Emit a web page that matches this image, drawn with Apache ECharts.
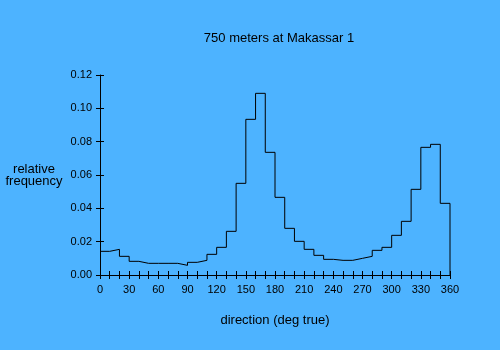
<!DOCTYPE html>
<html><head><meta charset="utf-8">
<script src="https://cdn.jsdelivr.net/npm/echarts@6/dist/echarts.min.js"></script>
<style>html,body{margin:0;padding:0;background:#4DB3FF}#c{width:500px;height:350px}</style>
</head><body><div id="c"></div>
<script>
const titleText = '750 meters at Makassar 1';
const xName = 'direction (deg true)';
const yName = 'relative\nfrequency';
const binWidth = 10;
const binStarts = [0,10,20,30,40,50,60,70,80,90,100,110,120,130,140,150,160,170,180,190,200,210,220,230,240,250,260,270,280,290,300,310,320,330,340,350];
const freq = [0.0142,0.0154,0.0112,0.0082,0.0070,0.0070,0.0070,0.0070,0.0058,0.0076,0.0088,0.0124,0.0166,0.0262,0.0550,0.0934,0.1090,0.0736,0.0466,0.0280,0.0202,0.0154,0.0118,0.0094,0.0088,0.0088,0.0100,0.0112,0.0148,0.0166,0.0238,0.0322,0.0514,0.0766,0.0784,0.0430];
const xLabelStep = 30;

const stepData = [];
binStarts.forEach((s, i) => {
  stepData.push([s, freq[i]]);
  stepData.push([s + binWidth, freq[i]]);
});
stepData.push([binStarts[binStarts.length - 1] + binWidth, 0]);

const font = '"Liberation Sans", Arial, sans-serif';
const black = '#000';
const chart = echarts.init(document.getElementById('c'), null, {renderer: 'canvas'});
const xCommon = {type: 'value', min: 0, max: 360, interval: 10, position: 'bottom', splitLine: {show: false}};
const yCommon = {type: 'value', min: 0, max: 0.12, interval: 0.02, position: 'left', splitLine: {show: false}};
chart.setOption({
  animation: false,
  backgroundColor: '#4DB3FF',
  title: {text: titleText, left: 274, top: 27, textAlign: 'center',
    textStyle: {fontFamily: font, fontSize: 13, fontWeight: 'normal', color: black}},
  grid: {left: 100, right: 50, top: 75, bottom: 75, containLabel: false},
  xAxis: [
    Object.assign({}, xCommon, {
      name: xName, nameLocation: 'middle', nameGap: 39,
      nameTextStyle: {fontFamily: font, fontSize: 13, color: black},
      axisLine: {lineStyle: {color: black, width: 1}},
      axisTick: {inside: false, length: 4, lineStyle: {color: black}},
      axisLabel: {fontFamily: font, fontSize: 11, color: black, margin: 9,
        formatter: v => (v % xLabelStep === 0 ? String(v) : '')}
    }),
    Object.assign({}, xCommon, {
      axisLine: {show: false},
      axisTick: {inside: true, length: 4, lineStyle: {color: black}},
      axisLabel: {show: false}
    })
  ],
  yAxis: [
    Object.assign({}, yCommon, {
      name: yName, nameLocation: 'middle', nameGap: 66, nameRotate: 0,
      nameTextStyle: {fontFamily: font, fontSize: 13, color: black, align: 'center', verticalAlign: 'middle', lineHeight: 12},
      axisLine: {lineStyle: {color: black, width: 1}},
      axisTick: {inside: false, length: 4, lineStyle: {color: black}},
      axisLabel: {fontFamily: font, fontSize: 11, color: black, margin: 8,
        formatter: v => v.toFixed(2)}
    }),
    Object.assign({}, yCommon, {
      axisLine: {show: false},
      axisTick: {inside: true, length: 4, lineStyle: {color: black}},
      axisLabel: {show: false}
    })
  ],
  series: [{
    type: 'line', xAxisIndex: 0, yAxisIndex: 0, data: stepData,
    symbol: 'none', lineStyle: {color: black, width: 1}, silent: true
  }]
});
</script></body></html>
